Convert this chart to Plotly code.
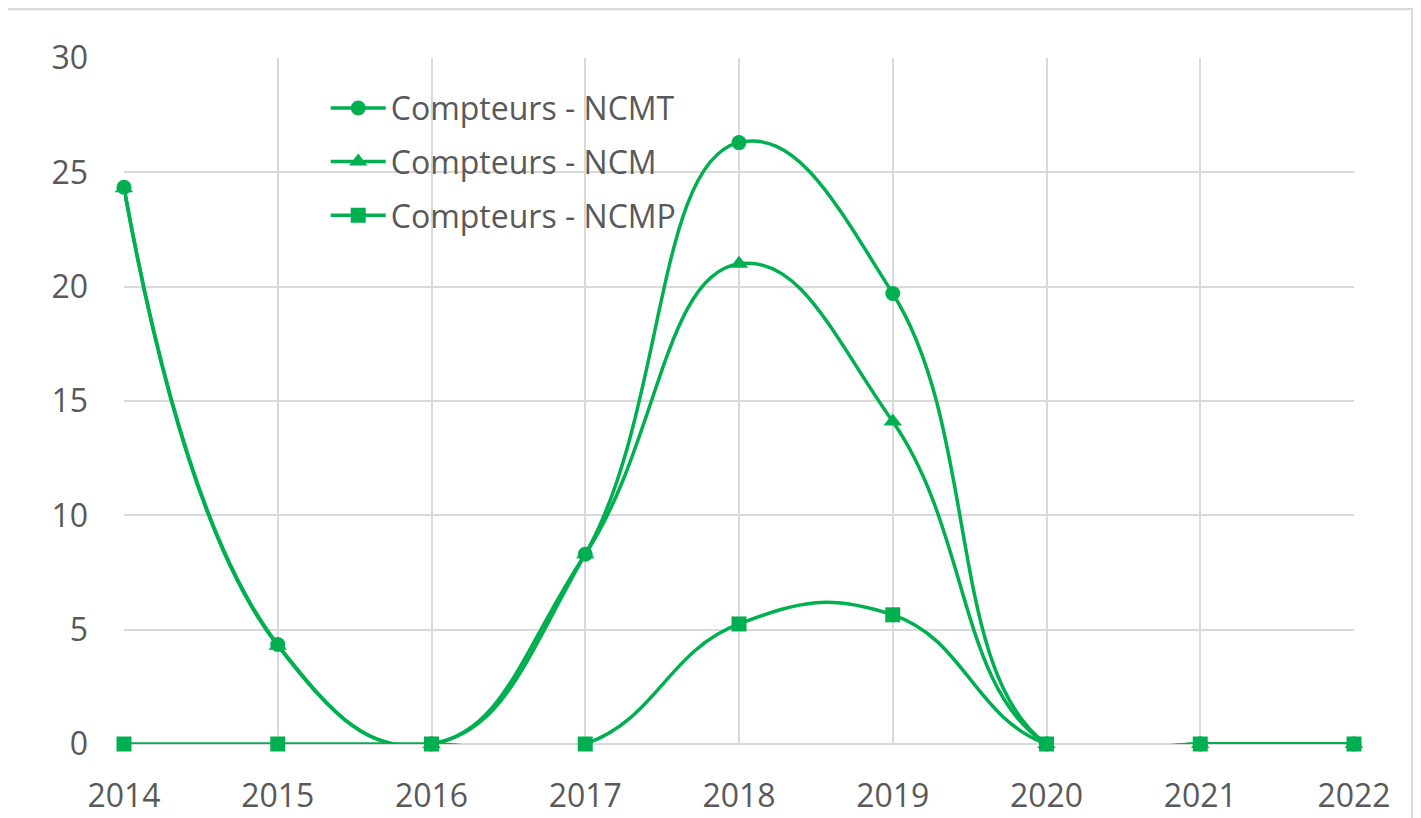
import plotly.graph_objects as go

years = [2014, 2015, 2016, 2017, 2018, 2019, 2020, 2021, 2022]
ncmt = [24.35, 4.35, 0, 8.3, 26.3, 19.7, 0, 0, 0]
ncm = [24.3, 4.3, 0, 8.3, 21.0, 14.1, 0, 0, 0]
ncmp = [0, 0, 0, 0, 5.25, 5.65, 0, 0, 0]
names = ["Compteurs - NCMT", "Compteurs - NCM", "Compteurs - NCMP"]
symbols = ["circle", "triangle-up", "square"]

GREEN = "#00B050"
FONT = "Open Sans"

fig = go.Figure()
for i, (vals, name, sym) in enumerate(zip([ncmt, ncm, ncmp], names, symbols)):
    fig.add_trace(go.Scatter(
        x=years, y=vals, name=name, mode="lines+markers",
        line=dict(color=GREEN, width=3.5, shape="spline", smoothing=1.3),
        marker=dict(symbol=sym, size=15 if sym != "triangle-up" else 16, color=GREEN),
        cliponaxis=False, legendgroup=f"g{i}",
    ))

fig.update_layout(
    width=1413, height=810,
    margin=dict(l=116, r=67, t=50, b=74, autoexpand=False),
    paper_bgcolor="white", plot_bgcolor="white",
    font=dict(family=FONT, size=32, color="#595959"),
    showlegend=True,
    legend=dict(
        x=0.164, y=0.967, xanchor="left", yanchor="top",
        bgcolor="rgba(0,0,0,0)", traceorder="grouped", tracegroupgap=9,
        itemwidth=55, font=dict(family=FONT, size=32, color="#595959"),
    ),
    xaxis=dict(
        range=[2014, 2022], tickmode="array", tickvals=years,
        ticktext=[str(y) for y in years],
        showgrid=True, gridcolor="#D9D9D9", gridwidth=1.5,
        zeroline=False, showline=False, ticks="",
        ticklabelstandoff=30, automargin=False,
    ),
    yaxis=dict(
        range=[0, 30], tickmode="linear", tick0=0, dtick=5,
        showgrid=True, gridcolor="#D9D9D9", gridwidth=1.5,
        zeroline=True, zerolinecolor="#D9D9D9", zerolinewidth=1.5,
        showline=False, ticks="", ticklabelstandoff=35, automargin=False,
    ),
    shapes=[dict(
        type="rect", xref="paper", yref="paper",
        x0=-0.0967, x1=1.0475, y0=-0.14, y1=1.0714,
        line=dict(color="#D9D9D9", width=2.5), layer="below",
    )],
)

fig.write_html("out.html")
